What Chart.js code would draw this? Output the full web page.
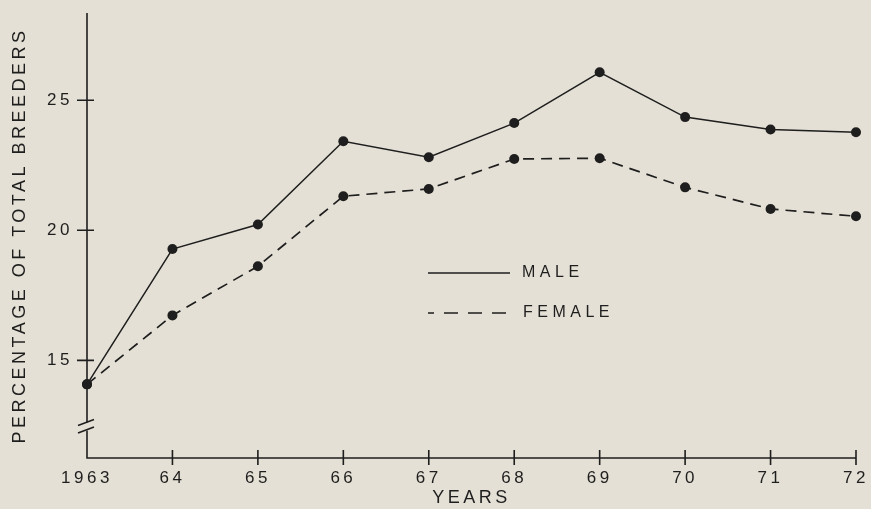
<!DOCTYPE html>
<html>
<head>
<meta charset="utf-8">
<script src="https://cdn.jsdelivr.net/npm/chart.js@4/dist/chart.umd.min.js"></script>
<style>
  html, body { margin: 0; padding: 0; background: #e4e0d5; }
  #wrap { position: relative; width: 871px; height: 509px; }
</style>
</head>
<body>
<div id="wrap"><canvas id="breedersChart"></canvas></div>
<script>
// values (percent of total breeders)
var years = ['1963', '64', '65', '66', '67', '68', '69', '70', '71', '72'];
var male = [14.08, 19.28, 20.22, 23.42, 22.81, 24.12, 26.07, 24.35, 23.87, 23.77];
var female = [14.08, 16.73, 18.62, 21.31, 21.59, 22.74, 22.77, 21.65, 20.82, 20.54];
var yTicks = [15, 20, 25];

var ink = '#1e1e1e';
var fontName = "'Liberation Sans', Arial, sans-serif";
Chart.defaults.font.family = fontName;
Chart.defaults.color = ink;

// axes with cross ticks, the axis break and the key inside the plot
var drawFrame = {
  id: 'drawFrame',
  beforeDraw: function(chart) {
    chart.ctx.letterSpacing = '3.5px';
  },
  afterDraw: function(chart) {
    var ctx = chart.ctx, a = chart.chartArea;
    var xs = chart.scales.x, ys = chart.scales.y;
    ctx.save();
    ctx.letterSpacing = '0px';
    ctx.strokeStyle = ink;
    ctx.lineWidth = 1.6;
    ctx.setLineDash([]);

    // axis lines, y axis broken near the bottom
    ctx.beginPath();
    ctx.moveTo(a.left, a.top);
    ctx.lineTo(a.left, a.bottom - 35.5);
    ctx.moveTo(a.left, a.bottom - 27.5);
    ctx.lineTo(a.left, a.bottom);
    ctx.lineTo(a.right, a.bottom);
    ctx.stroke();

    // break marks
    ctx.beginPath();
    ctx.moveTo(a.left - 9, a.bottom - 32.5);
    ctx.lineTo(a.left + 7, a.bottom - 38.5);
    ctx.moveTo(a.left - 9, a.bottom - 25);
    ctx.lineTo(a.left + 7, a.bottom - 31);
    ctx.stroke();

    // y ticks
    ctx.beginPath();
    yTicks.forEach(function(v) {
      var py = ys.getPixelForValue(v);
      ctx.moveTo(a.left - 10, py);
      ctx.lineTo(a.left + 7, py);
    });
    // x ticks
    for (var i = 1; i < years.length; i++) {
      var px = xs.getPixelForValue(i);
      ctx.moveTo(px, a.bottom - 8);
      ctx.lineTo(px, a.bottom + 7);
    }
    ctx.stroke();

    // key
    ctx.font = '16px ' + fontName;
    ctx.letterSpacing = '4.5px';
    ctx.fillStyle = ink;
    ctx.textBaseline = 'middle';
    ctx.textAlign = 'left';
    var keyRows = [{ ds: 0, y: 273, tx: 522 }, { ds: 1, y: 313, tx: 523 }];
    keyRows.forEach(function(r) {
      var ds = chart.data.datasets[r.ds];
      ctx.lineWidth = ds.borderWidth;
      ctx.setLineDash(r.ds === 1 ? [14, 10] : []);
      ctx.lineDashOffset = r.ds === 1 ? 8 : 0;
      ctx.beginPath();
      ctx.moveTo(428, r.y);
      ctx.lineTo(510, r.y);
      ctx.stroke();
      ctx.fillText(ds.label, r.tx, r.y);
    });
    ctx.restore();
  }
};

var ctx = document.getElementById('breedersChart').getContext('2d');

new Chart(ctx, {
  type: 'line',
  data: {
    labels: years,
    datasets: [{
      label: 'MALE',
      data: male,
      borderColor: ink,
      borderWidth: 1.5,
      pointRadius: 5,
      pointBackgroundColor: ink,
      pointBorderWidth: 0,
      tension: 0,
      clip: false
    }, {
      label: 'FEMALE',
      data: female,
      borderColor: ink,
      borderWidth: 1.7,
      borderDash: [11, 7],
      pointRadius: 5,
      pointBackgroundColor: ink,
      pointBorderWidth: 0,
      tension: 0,
      clip: false
    }]
  },
  options: {
    responsive: true,
    maintainAspectRatio: false,
    animation: false,
    events: [],
    layout: { padding: { top: 13, right: 15, left: 0, bottom: 0 } },
    plugins: {
      legend: { display: false },
      tooltip: { enabled: false }
    },
    scales: {
      x: {
        type: 'category',
        grid: { display: false, drawTicks: false },
        border: { display: false },
        ticks: { font: { size: 17 }, padding: 10, maxRotation: 0, autoSkip: false },
        title: { display: true, text: 'YEARS', font: { size: 18 }, padding: { top: 0, bottom: 0 } },
        afterFit: function(s) {
          s.height = 51;
          s.paddingLeft = 0;
          s.paddingRight = 0;
        }
      },
      y: {
        min: 11.25,
        max: 28.35,
        grid: { display: false, drawTicks: false },
        border: { display: false },
        afterBuildTicks: function(s) {
          s.ticks = yTicks.map(function(v) { return { value: v }; });
        },
        ticks: { font: { size: 17 }, padding: 14 },
        title: { display: true, text: 'PERCENTAGE OF TOTAL BREEDERS', font: { size: 18 }, padding: { top: 9, bottom: 0 } },
        afterFit: function(s) {
          s.width = 87;
          s.paddingTop = 0;
          s.paddingBottom = 0;
        }
      }
    }
  },
  plugins: [drawFrame]
});
</script>
</body>
</html>
